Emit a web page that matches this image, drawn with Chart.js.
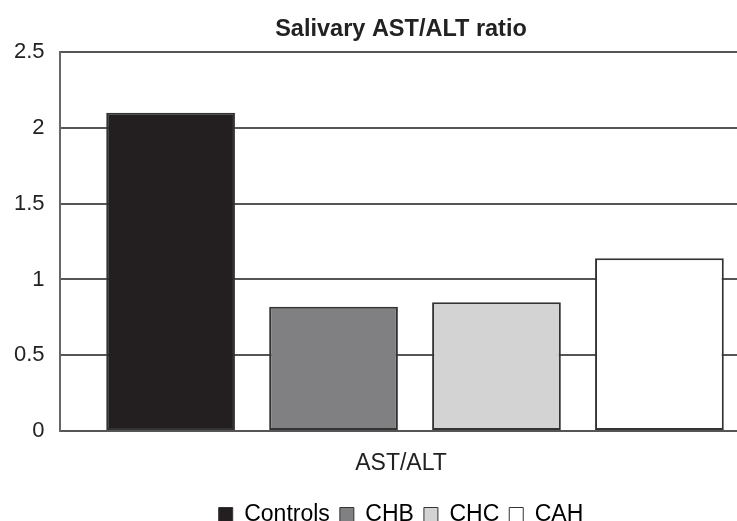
<!DOCTYPE html>
<html lang="en">
<head>
  <meta charset="UTF-8" />
  <title>Salivary AST/ALT ratio</title>
  <script src="https://cdn.jsdelivr.net/npm/chart.js"></script>
  <style>
    html, body {
      margin: 0;
      padding: 0;
      background: #fff;
      overflow: hidden;
    }
    .wrap {
      width: 800px;
      height: 536px;
    }
  </style>
</head>
<body>
  <div class="wrap">
    <canvas id="ratioChart"></canvas>
  </div>

  <script>
    // values
    const categories = ['AST/ALT'];
    const groups = ['Controls', 'CHB', 'CHC', 'CAH'];
    const ratios = [2.10, 0.82, 0.85, 1.14];
    const fills = ['#231f20', '#808083', '#d3d3d3', '#ffffff'];
    const yTicks = [0, 0.5, 1, 1.5, 2, 2.5];

    const font = "'Liberation Sans', Arial, sans-serif";

    const datasets = groups.map((name, i) => ({
      label: name,
      data: [ratios[i]],
      backgroundColor: fills[i],
      borderColor: '#333',
      borderWidth: 2,
      borderSkipped: false,
      barPercentage: 0.79,
      categoryPercentage: 0.918
    }));

    new Chart(document.getElementById('ratioChart'), {
      type: 'bar',
      data: { labels: categories, datasets: datasets },
      options: {
        responsive: true,
        maintainAspectRatio: false,
        animation: false,
        layout: { padding: { top: 1, right: 30, left: 32, bottom: 0 } },
        plugins: {
          title: {
            display: true,
            text: 'Salivary AST/ALT ratio',
            color: '#222',
            font: { family: font, size: 23.5, weight: 'bold' },
            padding: { top: 14, bottom: 9 }
          },
          legend: {
            position: 'bottom',
            labels: {
              color: '#222',
              font: { family: font, size: 23 },
              boxWidth: 14,
              boxHeight: 14,
              padding: 10,
              generateLabels: (chart) => chart.data.datasets.map((ds, i) => ({
                text: ds.label,
                fillStyle: ds.backgroundColor,
                strokeStyle: '#333',
                lineWidth: 1,
                datasetIndex: i
              }))
            }
          },
          tooltip: { enabled: false }
        },
        scales: {
          x: {
            grid: { display: false, drawTicks: false },
            border: { display: true, color: '#555', width: 2 },
            afterFit: (axis) => {
              axis.height = 62;
            },
            ticks: {
              color: '#222',
              font: { family: font, size: 23 },
              padding: 19,
              labelOffset: -14
            }
          },
          y: {
            min: 0,
            max: 2.5,
            afterBuildTicks: (axis) => {
              axis.ticks = yTicks.map(v => ({ value: v }));
            },
            afterFit: (axis) => {
              axis.width = 28;
            },
            grid: { color: '#555', lineWidth: 2, drawTicks: false },
            border: { display: true, color: '#666', width: 2 },
            ticks: {
              color: '#222',
              font: { family: font, size: 22 },
              mirror: true,
              crossAlign: 'far',
              padding: -46,
              callback: (v) => String(v)
            }
          }
        }
      }
    });
  </script>
</body>
</html>
